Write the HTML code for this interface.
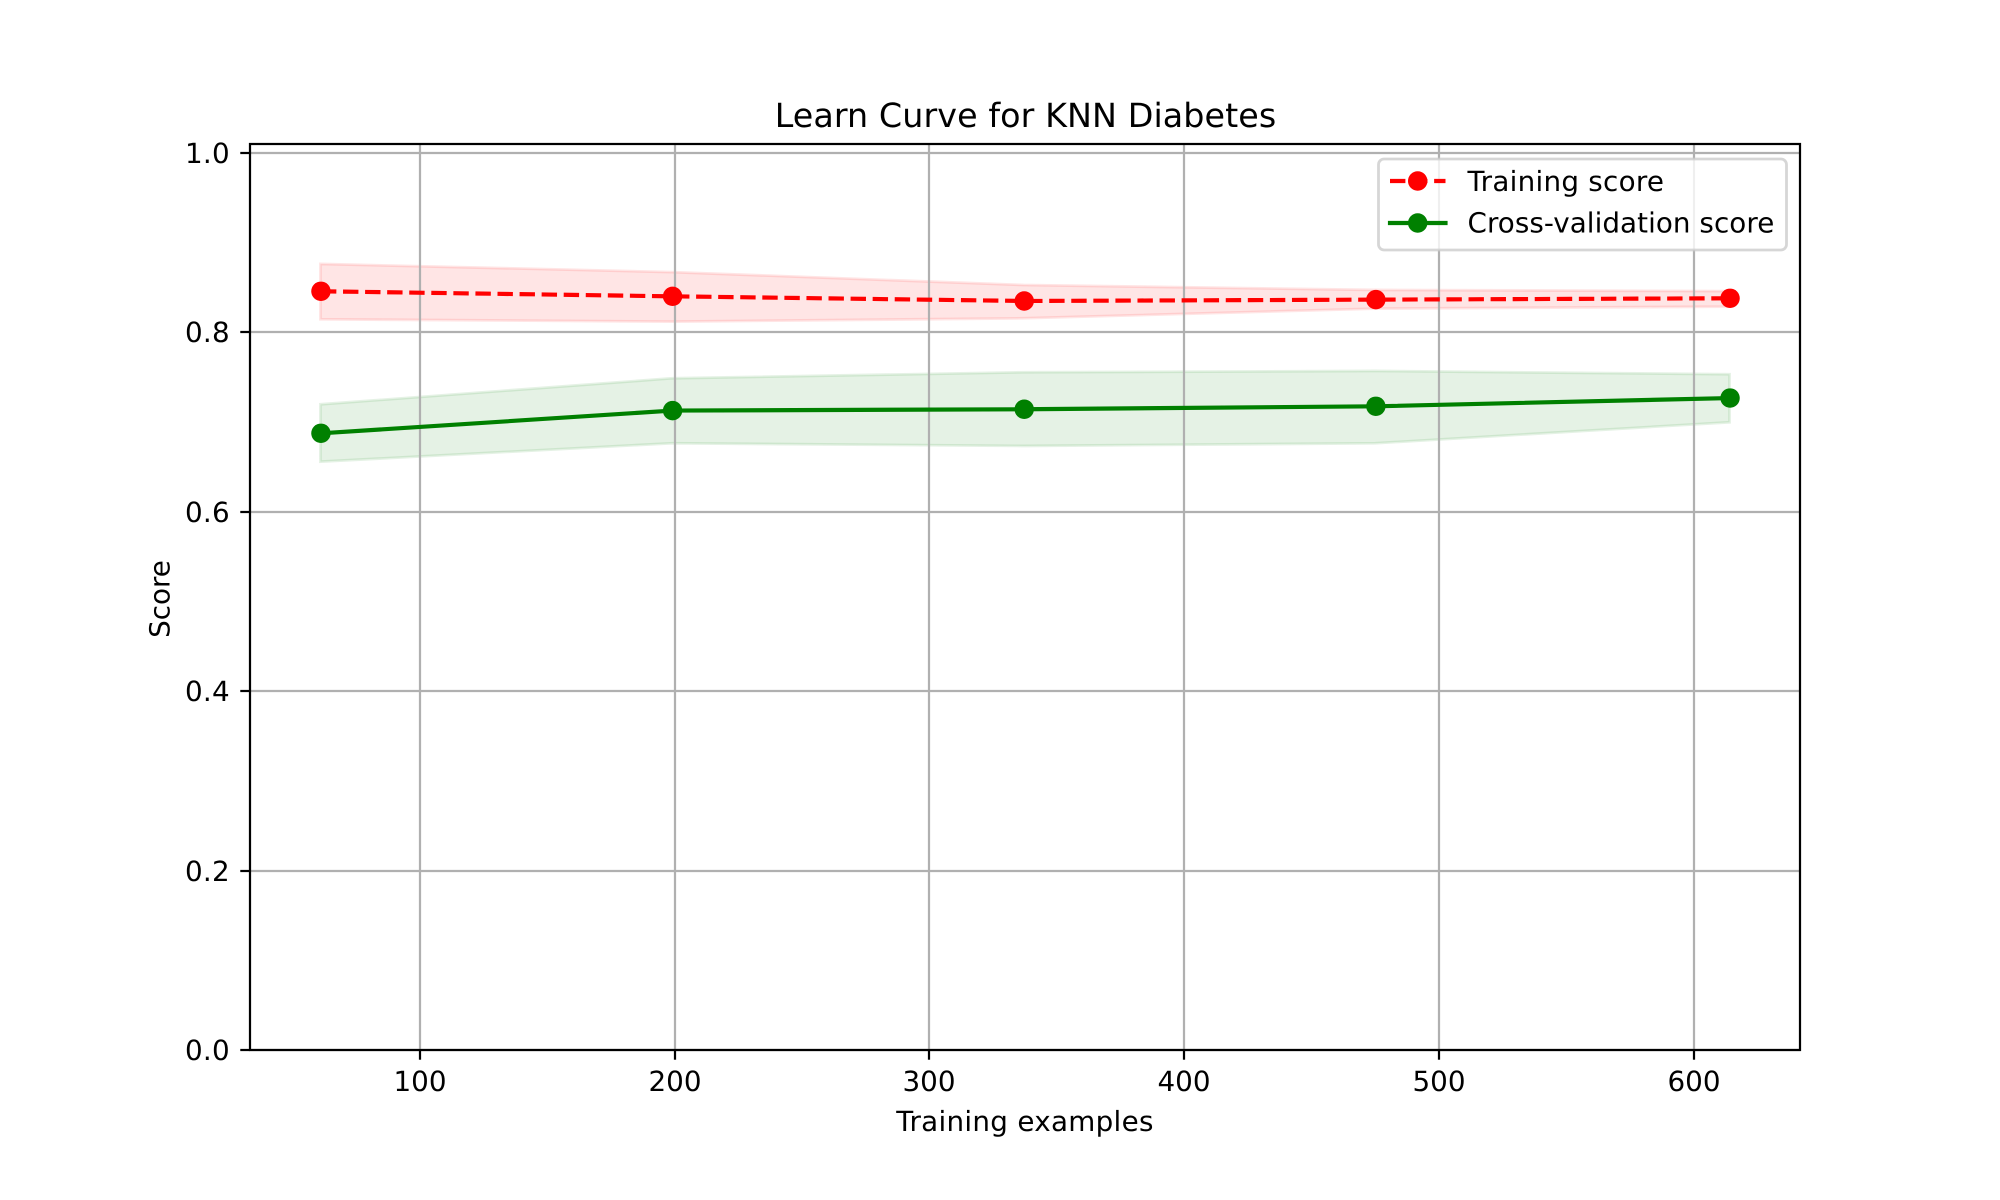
<!DOCTYPE html>
<html lang="en">
<head>
<meta charset="utf-8">
<title>Learn Curve for KNN Diabetes</title>
<style>
  html, body { margin: 0; padding: 0; background: #ffffff; width: 2000px; height: 1200px; overflow: hidden; }
  svg { display: block; }
  text { font-family: "DejaVu Sans", "Liberation Sans", sans-serif; fill: #000000; text-rendering: geometricPrecision; }
</style>
</head>
<body>
<svg id="chart" xmlns="http://www.w3.org/2000/svg" width="2000" height="1200" viewBox="0 0 2000 1200">
  <rect x="0" y="0" width="2000" height="1200" fill="#ffffff"></rect>
  <rect x="250" y="144" width="1550" height="906" fill="#ffffff"></rect>
  <g id="bands"></g>
  <g id="grid"></g>
  <g id="series"></g>
  <g id="ticks"></g>
  <rect x="250" y="144" width="1550" height="906" fill="none" stroke="#000000" stroke-width="2.22"></rect>
  <text x="1025.5" y="127" font-size="33.33" text-anchor="middle" style="letter-spacing:0.08px">Learn Curve for KNN Diabetes</text>
  <text x="1025" y="1131" font-size="27.78" text-anchor="middle" style="letter-spacing:0.3px">Training examples</text>
  <text transform="translate(169.5 599) rotate(-90)" font-size="27.78" text-anchor="middle">Score</text>
  <g>
    <rect x="1378.5" y="159" width="408" height="91" rx="5.6" ry="5.6" fill="#ffffff" fill-opacity="0.8" stroke="#cccccc" stroke-opacity="0.8" stroke-width="2.78"></rect>
    <g>
      <line x1="1390" y1="181" x2="1445.5" y2="181" stroke="#ff0000" stroke-width="4.17" stroke-dasharray="15.4 6.67"></line>
      <circle cx="1417.7" cy="181" r="9.72" fill="#ff0000"></circle>
      <text x="1467.5" y="191" font-size="27.78" style="letter-spacing:0.27px">Training score</text>
    </g>
    <g>
      <line x1="1390" y1="223" x2="1445.5" y2="223" stroke="#008000" stroke-width="4.17" stroke-linecap="square"></line>
      <circle cx="1417.7" cy="223" r="9.72" fill="#008000"></circle>
      <text x="1467.5" y="232.5" font-size="27.78" style="letter-spacing:0.06px">Cross-validation score</text>
    </g>
  </g>
</svg>
<script>
const trainSizes = [61, 199, 337, 475, 614];
const trainScores = [0.8458, 0.8402, 0.835, 0.8365, 0.838];
const trainLow = [0.8146, 0.812, 0.8157, 0.8265, 0.8287];
const trainHigh = [0.8763, 0.8672, 0.8528, 0.8473, 0.846];
const cvScores = [0.6875, 0.7128, 0.7143, 0.7176, 0.7268];
const cvLow = [0.6559, 0.6764, 0.6734, 0.6764, 0.6998];
const cvHigh = [0.7198, 0.7488, 0.7555, 0.757, 0.7533];
const xTickValues = [100, 200, 300, 400, 500, 600];
const xTickLabels = ['100', '200', '300', '400', '500', '600'];
const yTickValues = [0, 0.2, 0.4, 0.6, 0.8, 1];
const yTickLabels = ['0.0', '0.2', '0.4', '0.6', '0.8', '1.0'];

const NS = 'http://www.w3.org/2000/svg';
const plotLeft = 250, plotRight = 1800, plotTop = 144, plotBottom = 1050;
const xMin = 33.35, xMax = 641.65, yMin = 0, yMax = 1.01;
const markerNudge = 0.5;

function xScale(v) {
  return plotLeft + (v - xMin) / (xMax - xMin) * (plotRight - plotLeft);
}
function yScale(v) {
  return plotBottom - (v - yMin) / (yMax - yMin) * (plotBottom - plotTop);
}
function make(tag, parent, attrs, text) {
  const el = document.createElementNS(NS, tag);
  for (const k in attrs) el.setAttribute(k, attrs[k]);
  if (text !== undefined) el.textContent = text;
  parent.appendChild(el);
  return el;
}

const bandsGroup = document.getElementById('bands');
const gridGroup = document.getElementById('grid');
const seriesGroup = document.getElementById('series');
const ticksGroup = document.getElementById('ticks');

function bandPoints(low, high) {
  const upper = trainSizes.map((s, i) => xScale(s).toFixed(2) + ',' + yScale(high[i]).toFixed(2));
  const lower = trainSizes.map((s, i) => xScale(s).toFixed(2) + ',' + yScale(low[i]).toFixed(2)).reverse();
  return upper.concat(lower).join(' ');
}
function linePoints(values) {
  return trainSizes.map((s, i) => (xScale(s) + markerNudge).toFixed(2) + ',' + yScale(values[i]).toFixed(2)).join(' ');
}

const trainBand = make('polygon', bandsGroup, { points: bandPoints(trainLow, trainHigh), fill: '#ff0000', 'fill-opacity': 0.1, stroke: '#ff0000', 'stroke-opacity': 0.1, 'stroke-width': 2.78 });


const cvBand = make('polygon', bandsGroup, { points: bandPoints(cvLow, cvHigh), fill: '#008000', 'fill-opacity': 0.1, stroke: '#008000', 'stroke-opacity': 0.1, 'stroke-width': 2.78 });



xTickValues.forEach((v, i) => {
  const x = Math.round(xScale(v));
  const grid = make('line', gridGroup, { x1: x, y1: plotTop, x2: x, y2: plotBottom, stroke: '#b0b0b0', 'stroke-width': 2.22 });
  
  
  const tick = make('line', ticksGroup, { x1: x, y1: plotBottom, x2: x, y2: plotBottom + 9.72, stroke: '#000000', 'stroke-width': 2.22 });
  
  
  const label = make('text', ticksGroup, { x: x, y: 1091, 'font-size': 27.78, 'text-anchor': 'middle' }, xTickLabels[i]);
  
  
});

yTickValues.forEach((v, i) => {
  const y = Math.round(yScale(v));
  const grid = make('line', gridGroup, { x1: plotLeft, y1: y, x2: plotRight, y2: y, stroke: '#b0b0b0', 'stroke-width': 2.22 });
  
  
  const tick = make('line', ticksGroup, { x1: plotLeft - 9.72, y1: y, x2: plotLeft, y2: y, stroke: '#000000', 'stroke-width': 2.22 });
  
  
  const label = make('text', ticksGroup, { x: 230, y: y + 10, 'font-size': 27.78, 'text-anchor': 'end', style: 'letter-spacing:0.3px' }, yTickLabels[i]);
  
  
});

const trainLine = make('polyline', seriesGroup, { points: linePoints(trainScores), fill: 'none', stroke: '#ff0000', 'stroke-width': 4.17, 'stroke-dasharray': '15.4 6.67', 'stroke-linejoin': 'round' });


trainScores.forEach((v, i) => {
  const point = make('circle', seriesGroup, { cx: (xScale(trainSizes[i]) + markerNudge).toFixed(2), cy: yScale(v).toFixed(2), r: 9.72, fill: '#ff0000' });
  
  
});

const cvLine = make('polyline', seriesGroup, { points: linePoints(cvScores), fill: 'none', stroke: '#008000', 'stroke-width': 4.17, 'stroke-linejoin': 'round' });


cvScores.forEach((v, i) => {
  const point = make('circle', seriesGroup, { cx: (xScale(trainSizes[i]) + markerNudge).toFixed(2), cy: yScale(v).toFixed(2), r: 9.72, fill: '#008000' });
  
  
});
</script>
</body>
</html>
